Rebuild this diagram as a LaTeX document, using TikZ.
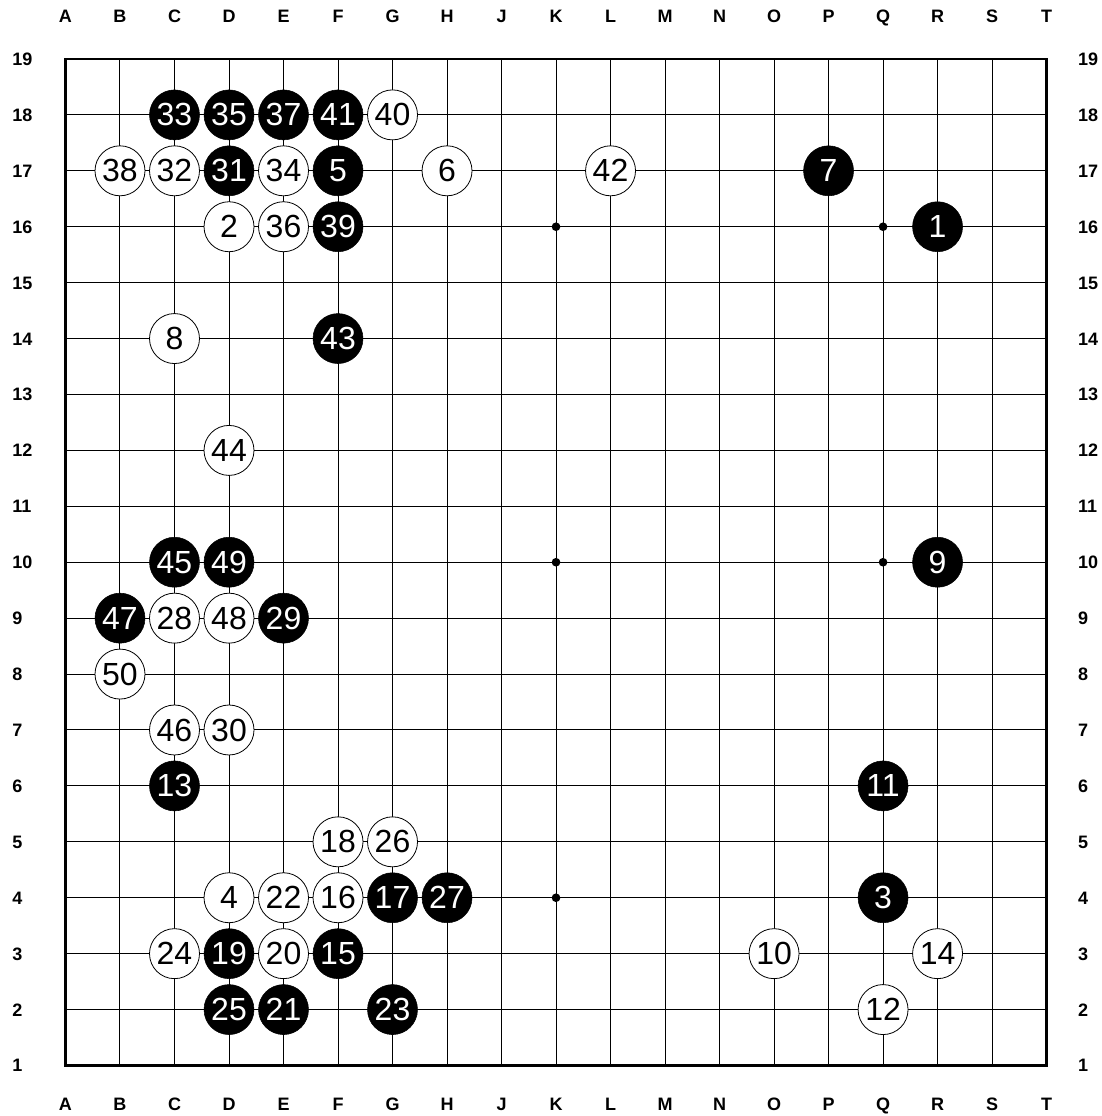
\documentclass[tikz,border=0pt]{standalone}
\usepackage{fontspec}
\setmainfont{Liberation Sans}
\usetikzlibrary{positioning}
\tikzset{
  gridline/.style={line width=0.75pt, black},
  boardedge/.style={line width=2.2pt, black},
  hoshi/.style={circle, fill=black, inner sep=0pt, minimum size=6.5pt},
  coordlabel/.style={font=\bfseries\fontsize{13.5}{13.5}\selectfont, inner sep=0pt, text height=9.7pt, text depth=0pt},
  stone/.style={circle, draw=black, inner sep=0pt, minimum size=37.5pt, font=\fontsize{24}{24}\selectfont},
  blackstone/.style={stone, fill=black, text=white},
  whitestone/.style={stone, line width=0.6pt, fill=white, text=black}
}

\begin{document}
\begin{tikzpicture}[x=40.88pt, y=41.94pt]
  \useasboundingbox (-0.2016,0.097) rectangle (20.015,20.055);

  \foreach \i in {2,...,18} {
    \draw[gridline] (\i,1) -- (\i,19);
    \draw[gridline] (1,\i) -- (19,\i);
  }
  \draw[boardedge] (1,1) rectangle (19,19);

  \foreach \i in {4,10,16}
    \foreach \j in {4,10,16}
      \node[hoshi] (hoshi-\i-\j) at (\i,\j) {};

  \foreach \l [count=\i] in {A,B,C,D,E,F,G,H,J,K,L,M,N,O,P,Q,R,S,T} {
    \node[coordlabel] (top-\l) at (\i,19.77) {\l};
    \node[coordlabel] (bot-\l) at (\i,0.312) {\l};
  }
  \foreach \r in {1,...,19} {
    \node[coordlabel, anchor=west] (left-\r) at (0.02,\r) {\r};
    \node[coordlabel, anchor=west] (right-\r) at (19.574,\r) {\r};
  }

  \foreach \n/\c/\r in {1/17/16, 3/16/4, 5/6/17, 7/15/17, 9/17/10, 11/16/6, 13/3/6,
      15/6/3, 17/7/4, 19/4/3, 21/5/2, 23/7/2, 25/4/2, 27/8/4, 29/5/9, 31/4/17,
      33/3/18, 35/4/18, 37/5/18, 39/6/16, 41/6/18, 43/6/14, 45/3/10, 47/2/9, 49/4/10}
    \node[blackstone] (m\n) at (\c,\r) {\n};

  \foreach \n/\c/\r in {2/4/16, 4/4/4, 6/8/17, 8/3/14, 10/14/3, 12/16/2, 14/17/3,
      16/6/4, 18/6/5, 20/5/3, 22/5/4, 24/3/3, 26/7/5, 28/3/9, 30/4/7, 32/3/17,
      34/5/17, 36/5/16, 38/2/17, 40/7/18, 42/11/17, 44/4/12, 46/3/7, 48/4/9, 50/2/8}
    \node[whitestone] (m\n) at (\c,\r) {\n};
\end{tikzpicture}
\end{document}
